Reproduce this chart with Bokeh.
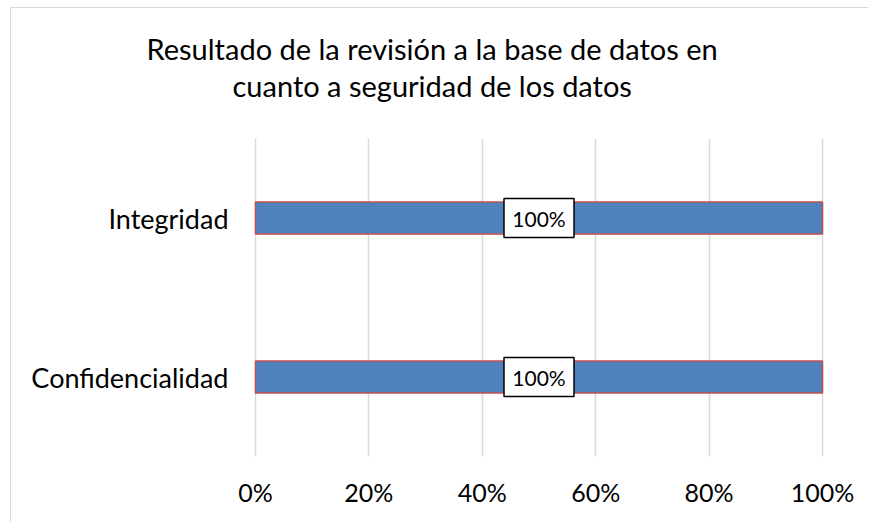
from bokeh.plotting import figure
from bokeh.models import FactorRange, Range1d, FixedTicker, NumeralTickFormatter, ColumnDataSource, Title
from bokeh.core.properties import value
from bokeh.embed import file_html
from bokeh.resources import INLINE

title_lines = ["Resultado de la revisión a la base de datos en", "cuanto a seguridad de los datos"]
title_offsets = [-107, -21]
categories = ["Confidencialidad", "Integridad"]
values = [1.0, 1.0]
labels = ["100%", "100%"]
ticks = [0, 0.2, 0.4, 0.6, 0.8, 1.0]

FONT = "Lato"
W, H = 858, 515
PAD = 0.0035  # tiny range padding so the 0% and 100% grid lines are not clipped

p = figure(width=W, height=H, output_backend="svg", toolbar_location=None,
           y_range=FactorRange(*categories), x_range=Range1d(-PAD, 1 + PAD),
           min_border_left=242, min_border_right=45, min_border_top=130, min_border_bottom=67)
p.title = None
p.outline_line_color = None
p.styles = {"border-left": "1px solid #D9D9D9", "border-top": "1px solid #D9D9D9",
            "margin-left": "10px", "margin-top": "7px"}

src = ColumnDataSource(dict(cat=categories, val=values, half=[v / 2 for v in values], lab=labels))
p.hbar(y="cat", right="val", left=0, height=0.2, source=src,
       fill_color="#4F81BD", line_color="#C0504D", line_width=1.5)
p.rect(x="half", y="cat", width=70, height=39, width_units="screen", height_units="screen",
       source=src, fill_color="white", line_color="black", line_width=1.5)
p.text(x="half", y="cat", text="lab", source=src, text_align="center", text_baseline="middle",
       text_font=value(FONT), text_font_size="21px", text_color="black")

p.xaxis.ticker = FixedTicker(ticks=ticks)
p.xaxis.formatter = NumeralTickFormatter(format="0%")
for ax in (p.xaxis[0], p.yaxis[0]):
    ax.axis_line_color = None
    ax.major_tick_line_color = None
    ax.minor_tick_line_color = None
    ax.major_label_text_font = FONT
    ax.major_label_text_color = "black"
p.xaxis.major_label_text_font_size = "25px"
p.yaxis.major_label_text_font_size = "27px"
p.xaxis.major_label_standoff = 14
p.yaxis.major_label_standoff = 19
p.xgrid.ticker = FixedTicker(ticks=ticks)
p.xgrid.grid_line_color = "#D9D9D9"
p.xgrid.grid_line_width = 1.5
p.ygrid.grid_line_color = None

# spacer between title and plot area
p.add_layout(Title(text=" ", text_font_size="20px", standoff=12), "above")
for t, off in reversed(list(zip(title_lines, title_offsets))):
    p.add_layout(Title(text=t, align="left", offset=off, text_font=FONT, text_font_size="29px",
                       text_font_style="normal", text_color="black", standoff=0), "above")

open("out.html", "w").write(file_html(p, INLINE))
